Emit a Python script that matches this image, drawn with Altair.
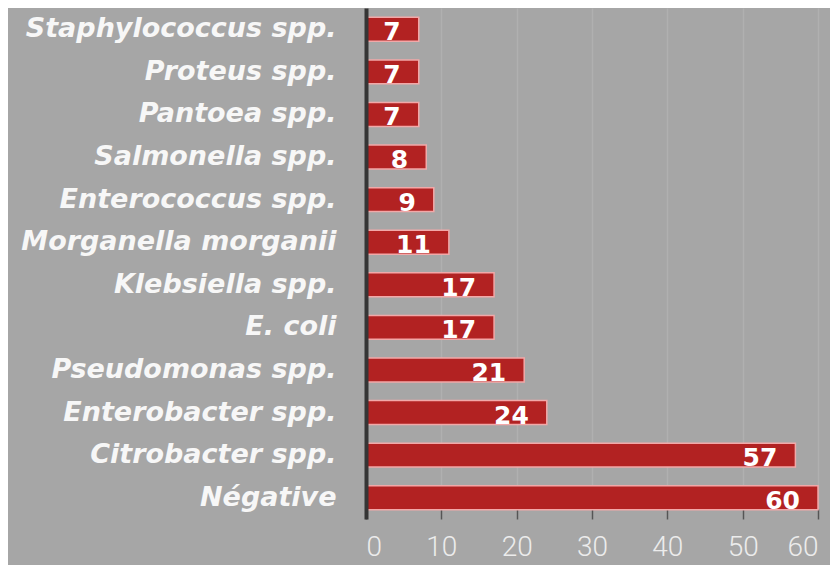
import altair as alt
import pandas as pd

categories = ["Staphylococcus spp.", "Proteus spp.", "Pantoea spp.", "Salmonella spp.",
              "Enterococcus spp.", "Morganella morganii", "Klebsiella spp.", "E. coli",
              "Pseudomonas spp.", "Enterobacter spp.", "Citrobacter spp.", "Négative"]
values = [7, 7, 7, 8, 9, 11, 17, 17, 21, 24, 57, 60]
x_ticks = [0, 10, 20, 30, 40, 50, 60]

df = pd.DataFrame({"cat": categories, "val": values})

y_enc = alt.Y("cat:N", sort=categories, title=None,
              scale=alt.Scale(paddingInner=0.44, paddingOuter=0.22),
              axis=alt.Axis(domain=True, domainColor="#353535", domainWidth=4, zindex=1,
                            ticks=False, labelFont="DejaVu Sans", labelFontSize=27,
                            labelFontWeight="bold", labelFontStyle="italic",
                            labelColor="#f7f7f7", labelPadding=30, labelLimit=400))

bars = alt.Chart(df).mark_bar(color="#b22222", stroke="#f2a8a8", strokeWidth=1.5).encode(
    x=alt.X("val:Q", title=None, scale=alt.Scale(domain=[0, 60], nice=False),
            axis=alt.Axis(values=x_ticks, domain=False, grid=True, gridColor="#b0b0b0",
                          gridWidth=1.5, tickColor="#555555", tickSize=10, tickWidth=1.5,
                          offset=-10, labelPadding=14, labelFont="Roboto",
                          labelFontSize=28, labelFontWeight=300, labelColor="#ececec")),
    y=y_enc,
)

text = alt.Chart(df).mark_text(align="right", baseline="middle", dx=-18, dy=3,
                               font="DejaVu Sans", fontSize=25, fontWeight="bold",
                               color="white").encode(
    x=alt.X("val:Q"),
    y=alt.Y("cat:N", sort=categories),
    text=alt.Text("val:Q"),
)

chart = (bars + text).properties(
    width=452, height=511,
    background="#a6a6a6",
    autosize=alt.AutoSizeParams(type="none"),
    padding={"left": 358, "top": 0, "right": 12, "bottom": 46},
).configure_view(stroke=None)

chart.save("out.html", embed_options={"renderer": "svg", "actions": False})
